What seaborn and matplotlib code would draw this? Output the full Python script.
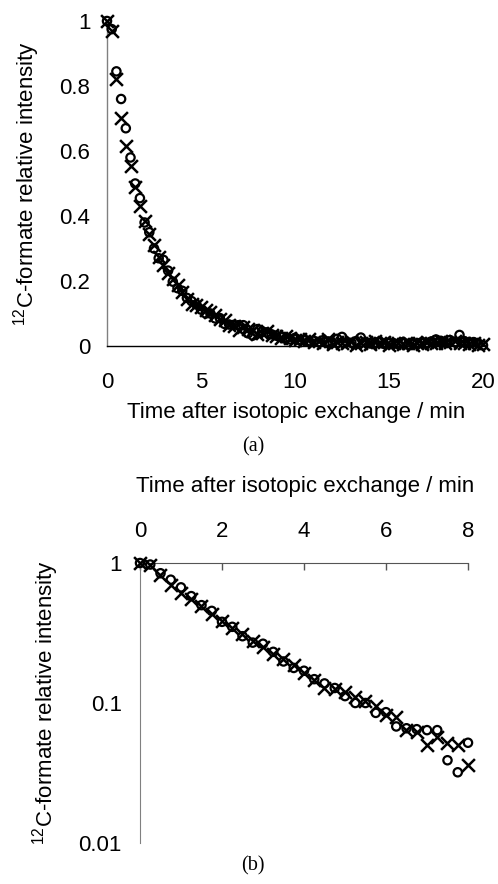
import matplotlib
matplotlib.use("Agg")
import matplotlib.pyplot as plt
import seaborn as sns
import pandas as pd
from matplotlib.ticker import FixedLocator, NullLocator

# time after isotopic exchange (min)
time_min = [0.0, 0.25, 0.5, 0.75, 1.0, 1.25, 1.5, 1.75, 2.0, 2.25, 2.5, 2.75,
            3.0, 3.25, 3.5, 3.75, 4.0, 4.25, 4.5, 4.75, 5.0, 5.25, 5.5, 5.75,
            6.0, 6.25, 6.5, 6.75, 7.0, 7.25, 7.5, 7.75, 8.0, 8.25, 8.5, 8.75,
            9.0, 9.25, 9.5, 9.75, 10.0, 10.25, 10.5, 10.75, 11.0, 11.25, 11.5,
            11.75, 12.0, 12.25, 12.5, 12.75, 13.0, 13.25, 13.5, 13.75, 14.0,
            14.25, 14.5, 14.75, 15.0, 15.25, 15.5, 15.75, 16.0, 16.25, 16.5,
            16.75, 17.0, 17.25, 17.5, 17.75, 18.0, 18.25, 18.5, 18.75, 19.0,
            19.25, 19.5, 19.75, 20.0]

# 12C-formate relative intensity, run 1 (open circles)
circles = [1.00, 0.975, 0.845, 0.76, 0.67, 0.58, 0.50, 0.455, 0.38, 0.35, 0.30,
           0.27, 0.265, 0.232, 0.198, 0.178, 0.17, 0.148, 0.138, 0.128, 0.112,
           0.10, 0.10, 0.085, 0.086, 0.068, 0.066, 0.065, 0.064, 0.064, 0.039,
           0.032, 0.052,
           0.045, 0.042, 0.036, 0.032, 0.028, 0.022, 0.02, 0.025, 0.018, 0.02,
           0.015, 0.016, 0.012, 0.018, 0.014, 0.01, 0.022, 0.028, 0.012, 0.01,
           0.015, 0.026, 0.012, 0.008, 0.01, 0.014, 0.006, 0.01, 0.008, 0.005,
           0.012, 0.004, 0.01, 0.008, 0.012, 0.006, 0.014, 0.02, 0.016, 0.01,
           0.018, 0.012, 0.034, 0.015, 0.01, 0.012, 0.008, 0.002]

# 12C-formate relative intensity, run 2 (crosses)
crosses = [1.00, 0.97, 0.82, 0.70, 0.615, 0.555, 0.49, 0.43, 0.385, 0.345, 0.31,
           0.275, 0.25, 0.225, 0.205, 0.188, 0.165, 0.146, 0.128, 0.125, 0.12,
           0.11, 0.104, 0.095, 0.082, 0.08, 0.064, 0.062, 0.05, 0.057, 0.052,
           0.05, 0.036,
           0.04, 0.045, 0.035, 0.03, 0.025, 0.03, 0.024, 0.018, 0.02, 0.014,
           0.022, 0.012, 0.016, 0.01, 0.02, 0.006, 0.012, 0.008, 0.01, 0.014,
           0.004, 0.01, 0.012, 0.006, 0.014, 0.008, 0.012, 0.004, 0.008, 0.01,
           0.006, 0.008, 0.004, 0.01, 0.006, 0.012, 0.008, 0.01, 0.014, 0.008,
           0.012, 0.016, 0.008, 0.01, 0.006, 0.008, 0.004, 0.006]

lin_ticks = [0, 0.2, 0.4, 0.6, 0.8, 1]
lin_labels = ["0", "0.2", "0.4", "0.6", "0.8", "1"]
log_ticks = [0.01, 0.1, 1]
log_labels = ["0.01", "0.1", "1"]

df = pd.DataFrame({"time": time_min, "circle": circles, "cross": crosses})
df_early = df[df["time"] <= 8]

sns.set_style("white")
plt.rcParams["font.family"] = ["Liberation Sans", "DejaVu Sans"]
plt.rcParams["mathtext.fontset"] = "custom"
plt.rcParams["mathtext.rm"] = "Liberation Sans"
plt.rcParams["mathtext.default"] = "regular"
plt.rcParams["text.color"] = "black"
plt.rcParams["axes.labelcolor"] = "black"

FS = 16
ylab = "$^{12}$C-formate relative intensity"
xlab = "Time after isotopic exchange / min"

fig = plt.figure(figsize=(4.98, 8.84), dpi=100)


def draw_points(ax, data):
    sns.scatterplot(data=data, x="time", y="circle", ax=ax, marker="o", s=36,
                    facecolor="none", edgecolor="black", linewidth=1.6,
                    clip_on=False, zorder=3, legend=False)
    sns.scatterplot(data=data, x="time", y="cross", ax=ax, marker="x", s=85,
                    color="black", linewidth=1.8, clip_on=False, zorder=3,
                    legend=False)


# -------------------------
# (a) linear scale
# -------------------------
ax1 = fig.add_axes([0.21486, 0.60860, 0.75502, 0.36765])
draw_points(ax1, df)
ax1.set_xlim(0, 20)
ax1.set_ylim(0, 1)
ax1.set_xticks([0, 5, 10, 15, 20])
ax1.set_xticklabels(["0", "5", "10", "15", "20"])
ax1.set_yticks(lin_ticks)
ax1.set_yticklabels(lin_labels)
ax1.tick_params(axis="x", direction="out", length=5, width=1, pad=13.5,
                labelsize=FS, color="black", labelcolor="black")
ax1.tick_params(axis="y", direction="out", length=5, width=1, pad=7,
                labelsize=FS, color="#808080", labelcolor="black")
for s in ["top", "right"]:
    ax1.spines[s].set_visible(False)
ax1.spines["left"].set_color("#808080")
ax1.spines["bottom"].set_color("black")
ax1.spines["left"].set_linewidth(1)
ax1.spines["bottom"].set_linewidth(1)
ax1.set_xlabel(xlab, fontsize=FS)
ax1.xaxis.label.set_va("center")
ax1.xaxis.set_label_coords(0.503, -0.206)
ax1.set_ylabel(ylab, fontsize=FS)
ax1.yaxis.label.set_va("center")
ax1.yaxis.set_label_coords(-0.215, 0.5)

# -------------------------
# (b) log scale, first 8 min
# -------------------------
ax2 = fig.add_axes([0.28112, 0.04638, 0.65863, 0.31674])
draw_points(ax2, df_early)
ax2.set_yscale("log")
ax2.set_xlim(0, 8)
ax2.set_ylim(0.01, 1)
ax2.xaxis.tick_top()
ax2.xaxis.set_label_position("top")
ax2.set_xticks([0, 2, 4, 6, 8])
ax2.set_xticklabels(["0", "2", "4", "6", "8"])
ax2.yaxis.set_major_locator(FixedLocator(log_ticks))
ax2.yaxis.set_minor_locator(NullLocator())
ax2.set_yticklabels(log_labels)
ax2.tick_params(axis="x", direction="in", length=5, width=1, pad=15.4,
                labelsize=FS, color="#555555", labelcolor="black")
ax2.tick_params(axis="y", direction="out", length=5, width=1, pad=8,
                labelsize=FS, color="#808080", labelcolor="black")
for s in ["bottom", "right"]:
    ax2.spines[s].set_visible(False)
ax2.spines["left"].set_color("#808080")
ax2.spines["top"].set_color("#555555")
ax2.set_xlabel(xlab, fontsize=FS)
ax2.xaxis.label.set_va("center")
ax2.xaxis.set_label_coords(0.503, 1.275)
ax2.set_ylabel(ylab, fontsize=FS)
ax2.yaxis.label.set_va("center")
ax2.yaxis.set_label_coords(-0.287, 0.5)

# panel letters
fig.text(253 / 498, 1 - 447 / 884, "(a)", ha="center", va="center",
         fontsize=14.5, family=["Liberation Serif", "DejaVu Serif"])
fig.text(253 / 498, 1 - 866 / 884, "(b)", ha="center", va="center",
         fontsize=14.5, family=["Liberation Serif", "DejaVu Serif"])

fig.savefig("out.png", dpi=100)
plt.close(fig)
